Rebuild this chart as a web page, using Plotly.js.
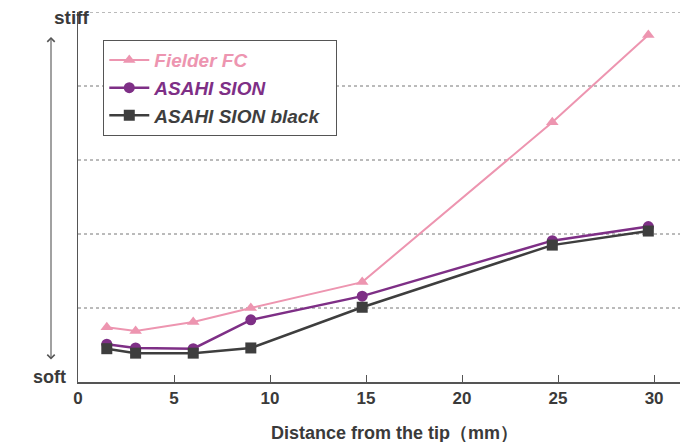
<!DOCTYPE html>
<html>
<head>
<meta charset="utf-8">
<script src="https://cdn.plot.ly/plotly-3.0.1.min.js"></script>
<style>html,body{margin:0;padding:0;background:#fff;}#chart{width:690px;height:442px;}</style>
</head>
<body>
<div id="chart"></div>
<script>
// Distance from the tip (mm)
const distance = [1.5, 3, 6, 9, 14.8, 24.7, 29.7];
// Relative stiffness (soft = 0 ... stiff = 5)
const fielderFC = [0.74, 0.69, 0.81, 1.00, 1.35, 3.51, 4.69];
const asahiSion = [0.51, 0.46, 0.45, 0.84, 1.16, 1.91, 2.10];
const asahiSionBlack = [0.45, 0.39, 0.39, 0.46, 1.01, 1.85, 2.04];
const seriesNames = ['Fielder FC', 'ASAHI SION', 'ASAHI SION black'];
const xTicks = [0, 5, 10, 15, 20, 25, 30];
const yGrid = [1, 2, 3, 4, 5];

const colors = ['#ED95B0', '#7E2F86', '#3E3E3E'];
const symbols = ['triangle-up', 'circle', 'square'];
const widths = [2, 2.5, 2.5];
const values = [fielderFC, asahiSion, asahiSionBlack];

const traces = values.map((v, i) => ({
  x: distance, y: v, type: 'scatter', mode: 'lines+markers',
  name: '<span style="color:' + colors[i] + '">' + seriesNames[i] + '</span>&nbsp;&nbsp;',
  line: {color: colors[i], width: widths[i]},
  marker: {symbol: symbols[i], size: 11, color: colors[i]}
}));

const layout = {
  width: 690, height: 442,
  margin: {l: 78, r: 10, t: 12, b: 60},
  paper_bgcolor: '#fff', plot_bgcolor: '#fff',
  font: {family: 'Liberation Sans, Arial, sans-serif', color: '#444'},
  showlegend: true,
  legend: {
    x: 0.042, y: 0.924, xanchor: 'left', yanchor: 'top',
    bgcolor: '#fff', bordercolor: '#555', borderwidth: 1,
    font: {size: 19, weight: 'bold', style: 'italic', family: 'Liberation Sans, Arial, sans-serif'},
    itemwidth: 40
  },
  xaxis: {
    range: [0, 31.35], tickvals: xTicks, ticktext: xTicks.map(String),
    showgrid: false, zeroline: false, showline: true, linecolor: '#555', linewidth: 1.5,
    ticks: 'inside', ticklen: 7, tickcolor: '#555',
    tickfont: {size: 17, weight: 'bold', color: '#3a3a3a'}
  },
  yaxis: {
    range: [0, 5], tickvals: yGrid, showticklabels: false,
    showgrid: false, zeroline: false, showline: true, linecolor: '#555', linewidth: 1.5, ticks: ''
  },
  shapes: yGrid.map(g => ({
    type: 'line', xref: 'paper', yref: 'y', x0: 0, x1: 1, y0: g, y1: g,
    line: {color: '#777', width: 1, dash: 'dot'}, layer: 'below'
  })),
  annotations: [
    {xref: 'paper', yref: 'paper', x: (394 - 78) / 602, y: (382 - 433) / 370,
     text: 'Distance from the tip（mm）', showarrow: false,
     font: {size: 18, weight: 'bold', color: '#3a3a3a'}, xanchor: 'center', yanchor: 'middle'},
    {xref: 'paper', yref: 'paper', x: (72 - 78) / 602, y: (382 - 18) / 370,
     text: 'stiff', showarrow: false, xanchor: 'center', yanchor: 'middle',
     font: {size: 19, weight: 'bold', color: '#3a3a3a'}},
    {xref: 'paper', yref: 'paper', x: (49 - 78) / 602, y: (382 - 377) / 370,
     text: 'soft', showarrow: false, xanchor: 'center', yanchor: 'middle',
     font: {size: 18, weight: 'bold', color: '#3a3a3a'}},
    {xref: 'paper', yref: 'paper', x: (51 - 78) / 602, y: (382 - 37) / 370,
     ax: 0, ay: 324, axref: 'pixel', ayref: 'pixel',
     text: '', showarrow: true, arrowside: 'end+start', arrowhead: 4, arrowsize: 1.3,
     arrowwidth: 1.1, arrowcolor: '#555'}
  ]
};

Plotly.newPlot('chart', traces, layout, {displayModeBar: false, staticPlot: true});
</script>
</body>
</html>
